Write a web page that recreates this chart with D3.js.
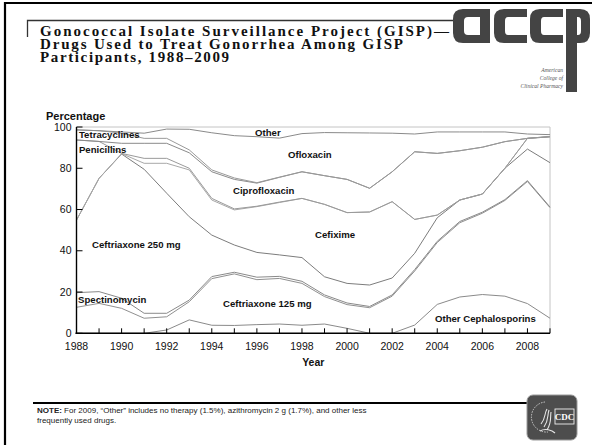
<!DOCTYPE html>
<html>
<head>
<meta charset="utf-8">
<script src="https://cdn.jsdelivr.net/npm/d3@7"></script>
<style>
  body { margin: 0; background: #fff; }
  svg { display: block; }
</style>
</head>
<body>
<svg id="chart" width="592" height="445"></svg>
<script>
// Years covered by GISP treatment data
const years = d3.range(1988, 2010);

// Share of GISP participants (%) treated with each drug, by year (stacked bottom to top)
const otherCephalosporins = [0, 0, 0, 0, 1.6, 6.5, 3.9, 3.8, 4.2, 4.5, 3.9, 4.5, 2.4, 0, 0, 4.0, 14.0, 17.6, 18.8, 18.0, 14.4, 7.3];
const ceftriaxone125 = [12.6, 14.5, 12.1, 7.3, 6.4, 8.8, 22.6, 25.0, 21.8, 22.1, 20.3, 13.3, 11.5, 12.4, 18.0, 26.2, 30.0, 36.0, 39.4, 46.4, 59.2, 53.6];
const spectinomycin = [7.1, 5.7, 4.9, 2.4, 1.7, 0.8, 1.0, 0.8, 1.2, 1.0, 1.0, 0.8, 0.8, 0.6, 0.6, 0.7, 0.6, 0.6, 0.5, 0.4, 0.4, 0.3];
const ceftriaxone250 = [35.2, 54.9, 69.9, 69.8, 58.2, 40.4, 20.1, 13.2, 12.0, 10.4, 11.5, 8.8, 9.5, 10.4, 8.2, 7.9, 11.4, 10.4, 8.8, 15.2, 15.3, 21.5];
const cefixime = [0, 0, 0.2, 2.9, 14.5, 22.7, 17.0, 17.0, 22.2, 25.4, 28.7, 35.1, 34.3, 35.4, 37.0, 16.4, 1.3, 0, 0, 0, 5.2, 12.5];
const penicillins = [38.8, 17.9, 0.1, 2.4, 2.4, 0.8, 0.8, 0.5, 0.2, 0.2, 0, 0, 0, 0, 0, 0, 0, 0, 0, 0, 0, 0];
const ciprofloxacin = [0, 0, 4.9, 7.3, 7.3, 7.5, 12.9, 14.3, 11.2, 12.0, 12.9, 13.9, 16.1, 11.5, 14.5, 32.8, 29.9, 23.9, 22.7, 12.9, 0, 0.2];
const tetracyclines = [4.9, 5.2, 4.9, 2.4, 2.4, 1.4, 0.9, 0.7, 0.2, 0.1, 0, 0, 0, 0, 0, 0, 0, 0, 0, 0, 0, 0];
const ofloxacin = [0, 0, 0.6, 2.5, 4.5, 10.0, 18.0, 20.5, 22.3, 18.9, 18.5, 20.9, 22.6, 26.8, 18.7, 8.6, 10.4, 9.1, 7.4, 4.7, 2.1, 0.9];
const other = [1.4, 1.8, 2.4, 3.0, 1.0, 1.1, 2.8, 4.2, 4.7, 5.4, 3.2, 2.7, 2.8, 2.9, 3.0, 3.4, 2.4, 2.4, 2.4, 2.4, 3.4, 3.7];

// Stack order and band labels
const drugKeys = ["Other Cephalosporins", "Ceftriaxone 125 mg", "Spectinomycin", "Ceftriaxone 250 mg",
  "Cefixime", "Penicillins", "Ciprofloxacin", "Tetracyclines", "Ofloxacin", "Other"];
const drugSeries = [otherCephalosporins, ceftriaxone125, spectinomycin, ceftriaxone250,
  cefixime, penicillins, ciprofloxacin, tetracyclines, ofloxacin, other];

// Axis ticks
const xTickYears = d3.range(1988, 2010, 2);
const xMinorYears = d3.range(1988, 2010);
const yTickValues = [0, 20, 40, 60, 80, 100];

// Band label anchors: [label, year at left edge, percentage at text middle]
const bandLabels = [
  ["Tetracyclines", 1988.11, 96.3],
  ["Penicillins", 1988.11, 89.0],
  ["Other", 1995.92, 97.3],
  ["Ofloxacin", 1997.38, 86.7],
  ["Ciprofloxacin", 1994.94, 69.2],
  ["Cefixime", 1998.58, 47.9],
  ["Ceftriaxone 250 mg", 1988.69, 43.0],
  ["Spectinomycin", 1988.07, 16.4],
  ["Ceftriaxone 125 mg", 1994.5, 14.4],
  ["Other Cephalosporins", 2003.9, 7.2]
];

const titleLines = [
  "Gonococcal Isolate Surveillance Project (GISP)\u2014",
  "Drugs Used to Treat Gonorrhea Among GISP",
  "Participants, 1988\u20132009"
];
const titleWidths = [409, 363, 189];

const svg = d3.select("#chart");
const sans = "'Liberation Sans', Arial, Helvetica, sans-serif";
const serif = "'Liberation Serif', 'Times New Roman', serif";

// ---- slide frame ----
svg.append("line").attr("x1", 4).attr("x2", 592).attr("y1", 3).attr("y2", 3)
  .attr("stroke", "#000").attr("stroke-width", 2.2);
svg.append("line").attr("x1", 5).attr("x2", 5).attr("y1", 2).attr("y2", 445)
  .attr("stroke", "#000").attr("stroke-width", 2.2);

// title rule
svg.append("path").attr("d", "M27.5,37 V20.5 H456")
  .attr("fill", "none").attr("stroke", "#333").attr("stroke-width", 1.3);

// ---- title ----
titleLines.forEach((t, i) => {
  svg.append("text")
    .attr("x", 40).attr("y", 35.5 + i * 13)
    .attr("font-family", serif).attr("font-weight", "bold")
    .attr("font-size", 15).attr("fill", "#111")
    .attr("textLength", titleWidths[i]).attr("lengthAdjust", "spacing")
    .text(t);
});

// ---- ACCP logo ----
const logo = svg.append("g").attr("fill", "#444");
// a
logo.append("path").attr("fill-rule", "evenodd").attr("d",
  "M463,9 H490 V43 H463 Q453,43 453,33 V19 Q453,9 463,9 Z " +
  "M468,17 H480 V35 H468 Q464,35 464,31 V21 Q464,17 468,17 Z");
// c, c
[494, 530].forEach(x0 => {
  logo.append("path").attr("d",
    `M${x0 + 10},9 H${x0 + 33} V17 H${x0 + 14} Q${x0 + 11},17 ${x0 + 11},21 V31 Q${x0 + 11},35 ${x0 + 14},35 H${x0 + 33} V43 H${x0 + 10} Q${x0},43 ${x0},33 V19 Q${x0},9 ${x0 + 10},9 Z`);
});
// p
logo.append("path").attr("fill-rule", "evenodd").attr("d",
  "M566,9 H580 Q590,9 590,19 V33 Q590,43 580,43 H577 V92 H566 Z " +
  "M577,17 H578 Q581,17 581,21 V31 Q581,35 578,35 H577 Z");
const logoText = svg.append("text")
  .attr("font-family", serif).attr("font-style", "italic")
  .attr("font-size", 5.6).attr("fill", "#555").attr("text-anchor", "end");
["American", "College of", "Clinical Pharmacy"].forEach((t, i) => {
  logoText.append("tspan").attr("x", 563).attr("y", 72 + i * 8).text(t);
});

// ---- chart ----
const x = d3.scaleLinear().domain([1988, 2009]).range([76.5, 550]);
const y = d3.scaleLinear().domain([0, 100]).range([333.3, 127]);

const table = years.map((yr, i) => {
  const row = { year: yr };
  drugKeys.forEach((k, j) => { row[k] = drugSeries[j][i]; });
  return row;
});
const stacked = d3.stack().keys(drugKeys)(table);

// plot frame (top and right)
svg.append("path")
  .attr("d", `M${x(1988)},${y(100)} H${x(2009)} V${y(0)}`)
  .attr("fill", "none").attr("stroke", "#c4c4c4").attr("stroke-width", 1);

const lineShades = ["#8a8a8a", "#909090", "#8a8a8a", "#7c7c7c", "#a8a8a8", "#9a9a9a", "#8a8a8a", "#9a9a9a", "#8a8a8a"];
const line = d3.line().x((d, i) => x(years[i])).y(d => y(d[1]));
svg.append("g").selectAll("path")
  .data(stacked.slice(0, -1))
  .join("path")
  .attr("d", s => line(s))
  .attr("fill", "none")
  .attr("stroke", (s, i) => lineShades[i])
  .attr("stroke-width", 1);

// axes
const xAxis = svg.append("g").attr("transform", `translate(0,${y(0)})`);
xAxis.append("line").attr("x1", x(1988) - 1).attr("x2", x(2009)).attr("stroke", "#000").attr("stroke-width", 1.4);
xAxis.selectAll(".mtick").data(xMinorYears).join("line")
  .attr("x1", d => x(d)).attr("x2", d => x(d)).attr("y1", 0).attr("y2", -5)
  .attr("stroke", "#000").attr("stroke-width", 1);
xAxis.selectAll(".xlab").data(xTickYears).join("text")
  .attr("x", d => x(d)).attr("y", 16.5)
  .attr("text-anchor", "middle").attr("font-family", sans).attr("font-size", 10.5).attr("fill", "#111")
  .text(d3.format("d"));

const yAxis = svg.append("g").attr("transform", `translate(${x(1988)},0)`);
yAxis.append("line").attr("y1", y(0) + 0.7).attr("y2", y(100)).attr("stroke", "#000").attr("stroke-width", 1.4);
yAxis.selectAll(".ytick").data(yTickValues).join("line")
  .attr("x1", 0).attr("x2", 6).attr("y1", d => y(d)).attr("y2", d => y(d))
  .attr("stroke", "#000").attr("stroke-width", 1);
yAxis.selectAll(".ylab").data(yTickValues).join("text")
  .attr("x", -5).attr("y", d => y(d)).attr("dy", "0.35em")
  .attr("text-anchor", "end").attr("font-family", sans).attr("font-size", 10.5).attr("fill", "#111")
  .text(d => d);

svg.append("text").attr("x", 46).attr("y", 119.5)
  .attr("font-family", sans).attr("font-weight", "bold").attr("font-size", 11).attr("fill", "#111")
  .text("Percentage");
svg.append("text").attr("x", x(1998.5)).attr("y", 365.5)
  .attr("text-anchor", "middle")
  .attr("font-family", sans).attr("font-weight", "bold").attr("font-size", 10.5).attr("fill", "#111")
  .text("Year");

// band labels
svg.append("g").selectAll("text").data(bandLabels).join("text")
  .attr("x", d => x(d[1])).attr("y", d => y(d[2])).attr("dy", "0.35em")
  .attr("font-family", sans).attr("font-weight", "bold").attr("font-size", 9.6).attr("fill", "#111")
  .text(d => d[0]);

// ---- note ----
svg.append("line").attr("x1", 33).attr("x2", 528).attr("y1", 403).attr("y2", 403)
  .attr("stroke", "#000").attr("stroke-width", 1.8);
const note = svg.append("text").attr("font-family", sans).attr("font-size", 8).attr("fill", "#222");
const l1 = note.append("tspan").attr("x", 37).attr("y", 413);
l1.append("tspan").attr("font-weight", "bold").text("NOTE:");
l1.append("tspan").text(" For 2009, \u201COther\u201D includes no therapy (1.5%), azithromycin 2 g (1.7%), and other less");
note.append("tspan").attr("x", 37).attr("y", 422.5).text("frequently used drugs.");

// ---- CDC logo ----
const cdc = svg.append("g");
cdc.append("rect").attr("x", 527).attr("y", 395).attr("width", 50).attr("height", 45).attr("rx", 6)
  .attr("fill", "#4d4d4d").attr("stroke", "#9a9a9a").attr("stroke-width", 1);
cdc.append("path").attr("d", "M545,402 A13,13 0 1,0 548,432")
  .attr("fill", "none").attr("stroke", "#d8d8d8").attr("stroke-width", 0.9).attr("stroke-dasharray", "1.5,1.2");
cdc.append("path").attr("d", "M547,409 C544,414 546,418 541,424 M549,410 C547,416 549,420 544,427 M551,412 C550,418 552,422 547,430 M540,431 C545,428 552,430 555,433")
  .attr("fill", "none").attr("stroke", "#e6e6e6").attr("stroke-width", 1.1);
cdc.append("rect").attr("x", 555).attr("y", 409).attr("width", 19).attr("height", 15)
  .attr("fill", "#4d4d4d").attr("stroke", "#f0f0f0").attr("stroke-width", 0.9);
cdc.append("text").attr("x", 564.5).attr("y", 420.2).attr("text-anchor", "middle")
  .attr("font-family", serif).attr("font-weight", "bold").attr("font-size", 9).attr("fill", "#fff")
  .text("CDC");
</script>
</body>
</html>
